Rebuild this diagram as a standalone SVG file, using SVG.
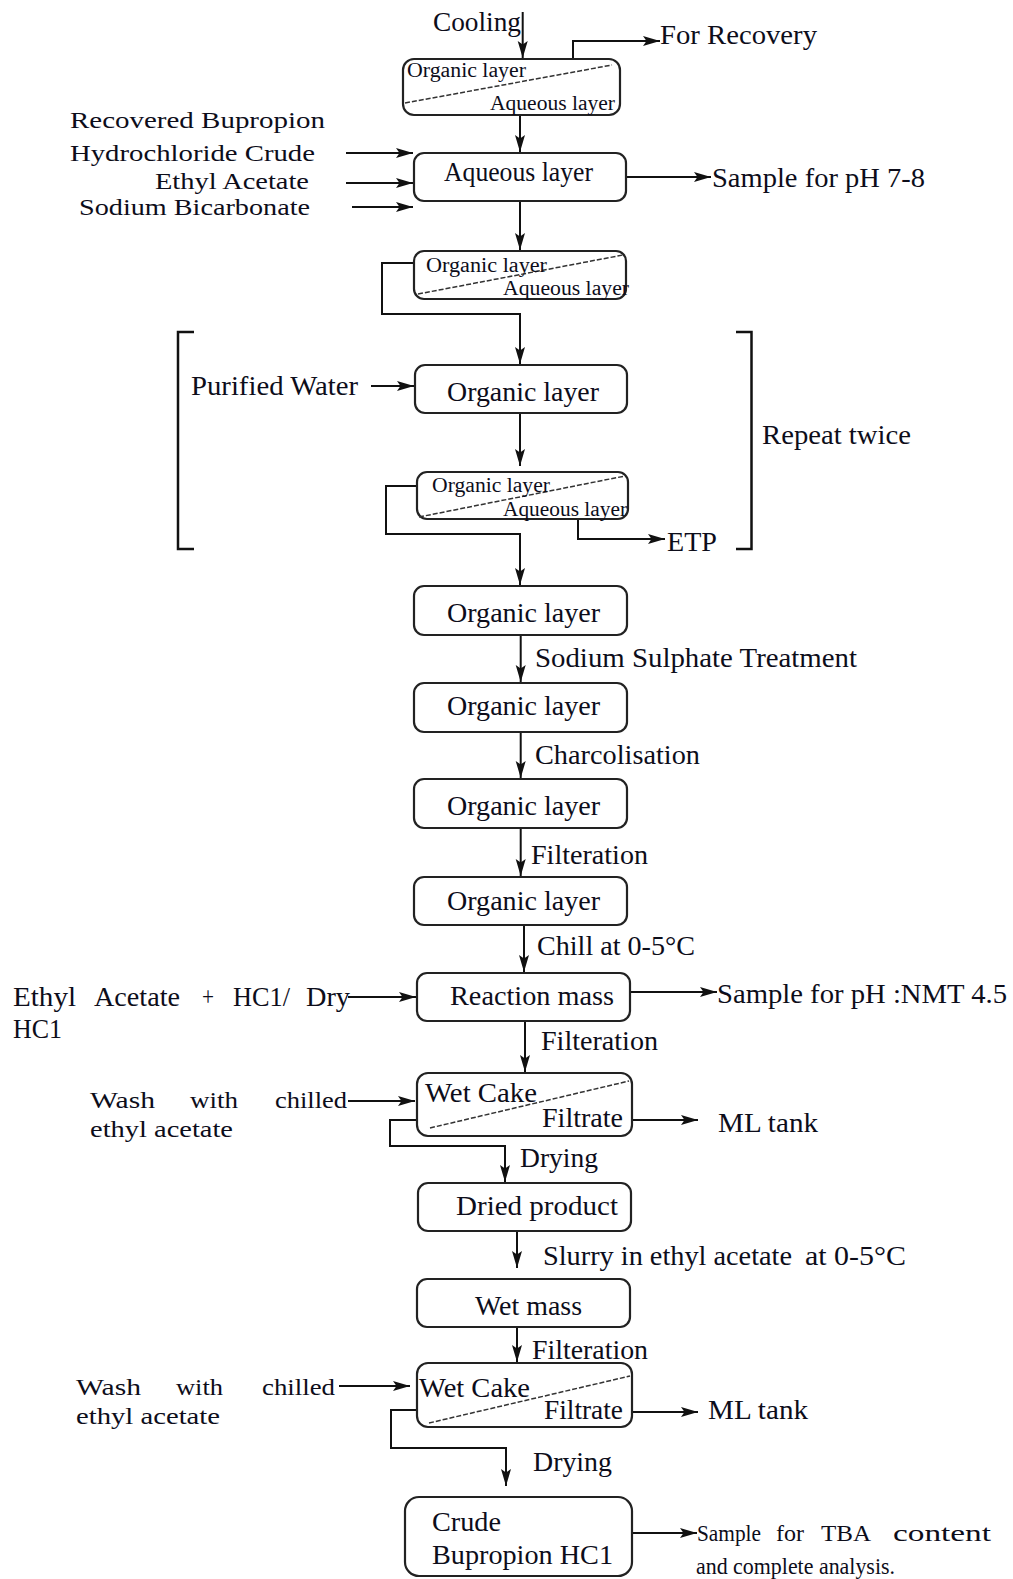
<svg xmlns="http://www.w3.org/2000/svg" width="1013" height="1579" viewBox="0 0 1013 1579">
  <style>
    .box { fill: #fff; stroke: #222; stroke-width: 2.2; }
    .div { fill: none; stroke: #333; stroke-width: 1.5; stroke-dasharray: 5 2; }
    .t { font-family: "Liberation Serif", "Times New Roman", serif; font-size: 27px; fill: #0d0d1a; }
    .s { font-size: 20px; }
    .m { font-size: 23px; }
    .n { font-size: 23px; }
    .c { fill: none; stroke: #111; stroke-width: 2; }
    .a { marker-end: url(#ah); }
    .br { fill: none; stroke: #111; stroke-width: 2.5; }
  </style>
  <defs>
    <marker id="ah" markerUnits="userSpaceOnUse" markerWidth="18" markerHeight="11" refX="17" refY="5.5" orient="auto">
      <path d="M0,0.5 L17,5.5 L0,10.5 L3.5,5.5 z" fill="#111"/>
    </marker>
  </defs>
  <rect width="1013" height="1579" fill="#fff"/>

  <!-- connectors -->
  <g id="connectors">
    <line class="c a" x1="522.7" y1="12" x2="522.7" y2="58"/>
    <polyline class="c a" points="573,59 573,41 660,41"/>
    <line class="c a" x1="520" y1="115" x2="520" y2="152"/>
    <line class="c a" x1="346" y1="153" x2="413" y2="153"/>
    <line class="c a" x1="346" y1="183" x2="413" y2="183"/>
    <line class="c a" x1="352" y1="207" x2="413" y2="207"/>
    <line class="c a" x1="626" y1="177" x2="711" y2="177"/>
    <line class="c a" x1="520" y1="201" x2="520" y2="250"/>
    <polyline class="c a" points="414,263 382,263 382,314 520,314 520,364"/>
    <line class="c a" x1="371" y1="386" x2="414" y2="386"/>
    <line class="c a" x1="520" y1="413" x2="520" y2="466"/>
    <polyline class="c a" points="417,486 386,486 386,534 520,534 520,585"/>
    <polyline class="c a" points="578,519 578,539 665,539"/>
    <line class="c a" x1="520.7" y1="635" x2="520.7" y2="682"/>
    <line class="c a" x1="520.7" y1="732" x2="520.7" y2="778"/>
    <line class="c a" x1="520.7" y1="828" x2="520.7" y2="876"/>
    <line class="c a" x1="524" y1="925" x2="524" y2="972"/>
    <line class="c a" x1="348" y1="997" x2="416" y2="997"/>
    <line class="c a" x1="630" y1="992" x2="717" y2="992"/>
    <line class="c a" x1="525" y1="1021" x2="525" y2="1072"/>
    <line class="c a" x1="348" y1="1101" x2="415" y2="1101"/>
    <line class="c a" x1="632" y1="1120" x2="698" y2="1120"/>
    <polyline class="c a" points="417,1120 390,1120 390,1146 505,1146 505,1182"/>
    <line class="c a" x1="517" y1="1231" x2="517" y2="1268"/>
    <line class="c a" x1="517" y1="1327" x2="517" y2="1362"/>
    <line class="c a" x1="339" y1="1386" x2="410" y2="1386"/>
    <line class="c a" x1="632" y1="1412" x2="698" y2="1412"/>
    <polyline class="c a" points="417,1410 391,1410 391,1448 506,1448 506,1486"/>
    <line class="c a" x1="632" y1="1533" x2="697" y2="1533"/>
    <!-- repeat brackets -->
    <path class="br" d="M194,332 H178 V549 H194"/>
    <path class="br" d="M736,332 H751.5 V549 H736"/>
  </g>

  <!-- step labels and side streams -->
  <g id="labels" class="t">
    <text x="433" y="31" textLength="88" lengthAdjust="spacingAndGlyphs">Cooling</text>
    <text x="660" y="44" textLength="157" lengthAdjust="spacingAndGlyphs">For Recovery</text>
    <text class="m" x="70" y="128" textLength="255" lengthAdjust="spacingAndGlyphs">Recovered Bupropion</text>
    <text class="m" x="70" y="161" textLength="245" lengthAdjust="spacingAndGlyphs">Hydrochloride Crude</text>
    <text class="m" x="155" y="189" textLength="154" lengthAdjust="spacingAndGlyphs">Ethyl Acetate</text>
    <text class="m" x="79" y="215" textLength="231" lengthAdjust="spacingAndGlyphs">Sodium Bicarbonate</text>
    <text x="712" y="187" textLength="213" lengthAdjust="spacingAndGlyphs">Sample for pH 7-8</text>
    <text x="191" y="395" textLength="167" lengthAdjust="spacingAndGlyphs">Purified Water</text>
    <text x="762" y="444" textLength="149" lengthAdjust="spacingAndGlyphs">Repeat twice</text>
    <text x="667" y="551" textLength="50" lengthAdjust="spacingAndGlyphs">ETP</text>
    <text x="535" y="667" textLength="322" lengthAdjust="spacingAndGlyphs">Sodium Sulphate Treatment</text>
    <text x="535" y="764" textLength="165" lengthAdjust="spacingAndGlyphs">Charcolisation</text>
    <text x="531" y="864" textLength="117" lengthAdjust="spacingAndGlyphs">Filteration</text>
    <text x="537" y="955" textLength="158" lengthAdjust="spacingAndGlyphs">Chill at 0-5°C</text>
    <!-- justified line: Ethyl Acetate + HC1/ Dry -->
    <text x="13" y="1006" textLength="63" lengthAdjust="spacingAndGlyphs">Ethyl</text>
    <text x="94" y="1006" textLength="86" lengthAdjust="spacingAndGlyphs">Acetate</text>
    <text x="202" y="1006" textLength="12" lengthAdjust="spacingAndGlyphs">+</text>
    <text x="233" y="1006" textLength="57" lengthAdjust="spacingAndGlyphs">HC1/</text>
    <text x="306" y="1006" textLength="44" lengthAdjust="spacingAndGlyphs">Dry</text>
    <text x="13" y="1038" textLength="49" lengthAdjust="spacingAndGlyphs">HC1</text>
    <text x="717" y="1003" textLength="290" lengthAdjust="spacingAndGlyphs">Sample for pH :NMT 4.5</text>
    <text x="541" y="1050" textLength="117" lengthAdjust="spacingAndGlyphs">Filteration</text>
    <text class="m" x="90" y="1108" textLength="65" lengthAdjust="spacingAndGlyphs">Wash</text>
    <text class="m" x="190" y="1108" textLength="48" lengthAdjust="spacingAndGlyphs">with</text>
    <text class="m" x="275" y="1108" textLength="72" lengthAdjust="spacingAndGlyphs">chilled</text>
    <text class="m" x="90" y="1137" textLength="143" lengthAdjust="spacingAndGlyphs">ethyl acetate</text>
    <text x="718" y="1132" textLength="100" lengthAdjust="spacingAndGlyphs">ML tank</text>
    <text x="520" y="1167" textLength="78" lengthAdjust="spacingAndGlyphs">Drying</text>
    <text x="543" y="1265" textLength="249" lengthAdjust="spacingAndGlyphs">Slurry in ethyl acetate</text>
    <text x="805" y="1265" textLength="101" lengthAdjust="spacingAndGlyphs">at 0-5°C</text>
    <text x="532" y="1359" textLength="116" lengthAdjust="spacingAndGlyphs">Filteration</text>
    <text class="m" x="76" y="1395" textLength="65" lengthAdjust="spacingAndGlyphs">Wash</text>
    <text class="m" x="176" y="1395" textLength="47" lengthAdjust="spacingAndGlyphs">with</text>
    <text class="m" x="262" y="1395" textLength="73" lengthAdjust="spacingAndGlyphs">chilled</text>
    <text class="m" x="76" y="1424" textLength="144" lengthAdjust="spacingAndGlyphs">ethyl acetate</text>
    <text x="708" y="1419" textLength="100" lengthAdjust="spacingAndGlyphs">ML tank</text>
    <text x="533" y="1471" textLength="79" lengthAdjust="spacingAndGlyphs">Drying</text>
    <!-- justified two-line note -->
    <text class="n" x="697" y="1541" textLength="64" lengthAdjust="spacingAndGlyphs">Sample</text>
    <text class="n" x="776" y="1541" textLength="28" lengthAdjust="spacingAndGlyphs">for</text>
    <text class="n" x="821" y="1541" textLength="50" lengthAdjust="spacingAndGlyphs">TBA</text>
    <text class="n" x="893" y="1541" textLength="98" lengthAdjust="spacingAndGlyphs">content</text>
    <text class="n" x="696" y="1574" textLength="199" lengthAdjust="spacingAndGlyphs">and complete analysis.</text>
  </g>

  <!-- process nodes -->
  <g id="sep-cooling">
    <rect class="box" x="403" y="59" width="217" height="56" rx="11"/>
    <line class="div" x1="405" y1="103" x2="612" y2="65"/>
    <text class="t s" x="407" y="77" textLength="119" lengthAdjust="spacingAndGlyphs">Organic layer</text>
    <text class="t s" x="490" y="110" textLength="125" lengthAdjust="spacingAndGlyphs">Aqueous layer</text>
  </g>
  <g id="aqueous-layer">
    <rect class="box" x="414" y="153" width="212" height="48" rx="10"/>
    <text class="t" x="444" y="181" textLength="149" lengthAdjust="spacingAndGlyphs">Aqueous layer</text>
  </g>
  <g id="sep-extract">
    <rect class="box" x="414" y="251" width="212" height="48" rx="10"/>
    <line class="div" x1="418" y1="294" x2="623" y2="255"/>
    <text class="t s" x="426" y="272" textLength="121" lengthAdjust="spacingAndGlyphs">Organic layer</text>
    <text class="t s" x="503" y="295" textLength="126" lengthAdjust="spacingAndGlyphs">Aqueous layer</text>
  </g>
  <g id="organic-wash">
    <rect class="box" x="415" y="365" width="212" height="48" rx="10"/>
    <text class="t" x="447" y="401" textLength="152" lengthAdjust="spacingAndGlyphs">Organic layer</text>
  </g>
  <g id="sep-wash">
    <rect class="box" x="417" y="472" width="211" height="47" rx="10"/>
    <line class="div" x1="419" y1="517" x2="625" y2="476"/>
    <text class="t s" x="432" y="492" textLength="118" lengthAdjust="spacingAndGlyphs">Organic layer</text>
    <text class="t s" x="503" y="516" textLength="124" lengthAdjust="spacingAndGlyphs">Aqueous layer</text>
  </g>
  <g id="organic-1">
    <rect class="box" x="414" y="586" width="213" height="49" rx="10"/>
    <text class="t" x="447" y="622" textLength="153" lengthAdjust="spacingAndGlyphs">Organic layer</text>
  </g>
  <g id="organic-2">
    <rect class="box" x="414" y="683" width="213" height="49" rx="10"/>
    <text class="t" x="447" y="715" textLength="153" lengthAdjust="spacingAndGlyphs">Organic layer</text>
  </g>
  <g id="organic-3">
    <rect class="box" x="414" y="779" width="213" height="49" rx="10"/>
    <text class="t" x="447" y="815" textLength="153" lengthAdjust="spacingAndGlyphs">Organic layer</text>
  </g>
  <g id="organic-4">
    <rect class="box" x="414" y="877" width="213" height="48" rx="10"/>
    <text class="t" x="447" y="910" textLength="153" lengthAdjust="spacingAndGlyphs">Organic layer</text>
  </g>
  <g id="reaction-mass">
    <rect class="box" x="417" y="973" width="213" height="48" rx="10"/>
    <text class="t" x="450" y="1005" textLength="164" lengthAdjust="spacingAndGlyphs">Reaction mass</text>
  </g>
  <g id="filter-1">
    <rect class="box" x="417" y="1073" width="215" height="63" rx="11"/>
    <line class="div" x1="430" y1="1128" x2="629" y2="1081"/>
    <text class="t" x="425" y="1102" textLength="112" lengthAdjust="spacingAndGlyphs">Wet Cake</text>
    <text class="t" x="542" y="1127" textLength="81" lengthAdjust="spacingAndGlyphs">Filtrate</text>
  </g>
  <g id="dried-product">
    <rect class="box" x="418" y="1183" width="213" height="48" rx="10"/>
    <text class="t" x="456" y="1215" textLength="162" lengthAdjust="spacingAndGlyphs">Dried product</text>
  </g>
  <g id="wet-mass">
    <rect class="box" x="417" y="1279" width="213" height="48" rx="10"/>
    <text class="t" x="475" y="1315" textLength="107" lengthAdjust="spacingAndGlyphs">Wet mass</text>
  </g>
  <g id="filter-2">
    <rect class="box" x="417" y="1363" width="215" height="64" rx="11"/>
    <line class="div" x1="429" y1="1423" x2="630" y2="1376"/>
    <text class="t" x="419" y="1397" textLength="111" lengthAdjust="spacingAndGlyphs">Wet Cake</text>
    <text class="t" x="544" y="1419" textLength="79" lengthAdjust="spacingAndGlyphs">Filtrate</text>
  </g>
  <g id="crude-product">
    <rect class="box" x="405" y="1497" width="227" height="79" rx="14"/>
    <text class="t" x="432" y="1531" textLength="69" lengthAdjust="spacingAndGlyphs">Crude</text>
    <text class="t" x="432" y="1564" textLength="181" lengthAdjust="spacingAndGlyphs">Bupropion HC1</text>
  </g>
</svg>
